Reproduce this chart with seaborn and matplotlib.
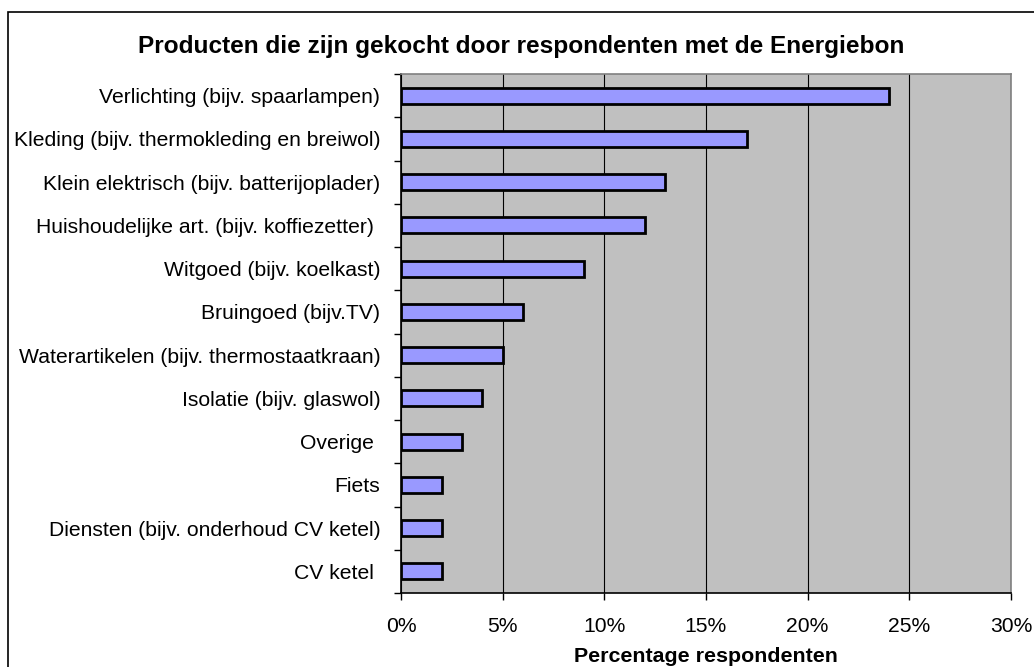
import numpy as np
import pandas as pd
import seaborn as sns
import matplotlib.pyplot as plt
from matplotlib.ticker import FixedLocator, PercentFormatter
from matplotlib.patches import Rectangle

# Chart data
categories = [
    "Verlichting (bijv. spaarlampen)",
    "Kleding (bijv. thermokleding en breiwol)",
    "Klein elektrisch (bijv. batterijoplader)",
    "Huishoudelijke art. (bijv. koffiezetter) ",
    "Witgoed (bijv. koelkast)",
    "Bruingoed (bijv.TV)",
    "Waterartikelen (bijv. thermostaatkraan)",
    "Isolatie (bijv. glaswol)",
    "Overige ",
    "Fiets",
    "Diensten (bijv. onderhoud CV ketel)",
    "CV ketel ",
]
percentages = [24, 17, 13, 12, 9, 6, 5, 4, 3, 2, 2, 2]
x_ticks = [0, 5, 10, 15, 20, 25, 30]

df = pd.DataFrame({"Product": categories, "Percentage": percentages})

sns.set_style("white")
plt.rcParams['font.family'] = ['Liberation Sans', 'DejaVu Sans']
plt.rcParams['text.color'] = 'black'
plt.rcParams['xtick.color'] = 'black'
plt.rcParams['ytick.color'] = 'black'
plt.rcParams['axes.labelcolor'] = 'black'

fig = plt.figure(figsize=(10.34, 6.67), dpi=100)
ax = fig.add_axes([401 / 1034, 1 - 593 / 667, 610 / 1034, (593 - 74) / 667])
ax.set_facecolor('#C0C0C0')

sns.barplot(data=df, x="Percentage", y="Product", orient="h",
            color="#9999FF", edgecolor="black", linewidth=2.0,
            width=0.37, saturation=1, ax=ax)

ax.set_xlim(0, 30)
ax.set_ylim(len(categories) - 0.5, -0.5)
ax.xaxis.set_major_locator(FixedLocator(x_ticks))
ax.xaxis.set_major_formatter(PercentFormatter(decimals=0))
ax.grid(axis='x', color='black', linewidth=0.8)
ax.set_axisbelow(True)

# Excel-style tick marks between categories
ax.yaxis.set_minor_locator(FixedLocator(np.arange(-0.5, len(categories), 1)))
ax.tick_params(axis='y', which='major', length=0, pad=15, labelsize=15.2)
ax.tick_params(axis='y', which='minor', left=True, length=5, width=1, color='black')
ax.tick_params(axis='x', which='major', bottom=True, length=5, width=1,
               color='black', pad=12.5, labelsize=15.2)

for side in ['left', 'bottom']:
    ax.spines[side].set_color('black')
    ax.spines[side].set_linewidth(1.2)
for side in ['top', 'right']:
    ax.spines[side].set_color('#808080')
    ax.spines[side].set_linewidth(1.2)

ax.set_ylabel("")
ax.set_xlabel("Percentage respondenten", fontsize=15.4, fontweight='bold', labelpad=7.5)

fig.text(521 / 1034, 1 - 47 / 667,
         "Producten die zijn gekocht door respondenten met de Energiebon",
         ha='center', va='center', fontsize=17.6, fontweight='bold')

# outer chart border (cut off at right and bottom)
fig.patches.append(Rectangle((8 / 1034, -0.1), 1.2, 1.1 - 12 / 667,
                             transform=fig.transFigure, fill=False,
                             edgecolor='black', linewidth=1.2))

fig.savefig("out.png", dpi=100)
